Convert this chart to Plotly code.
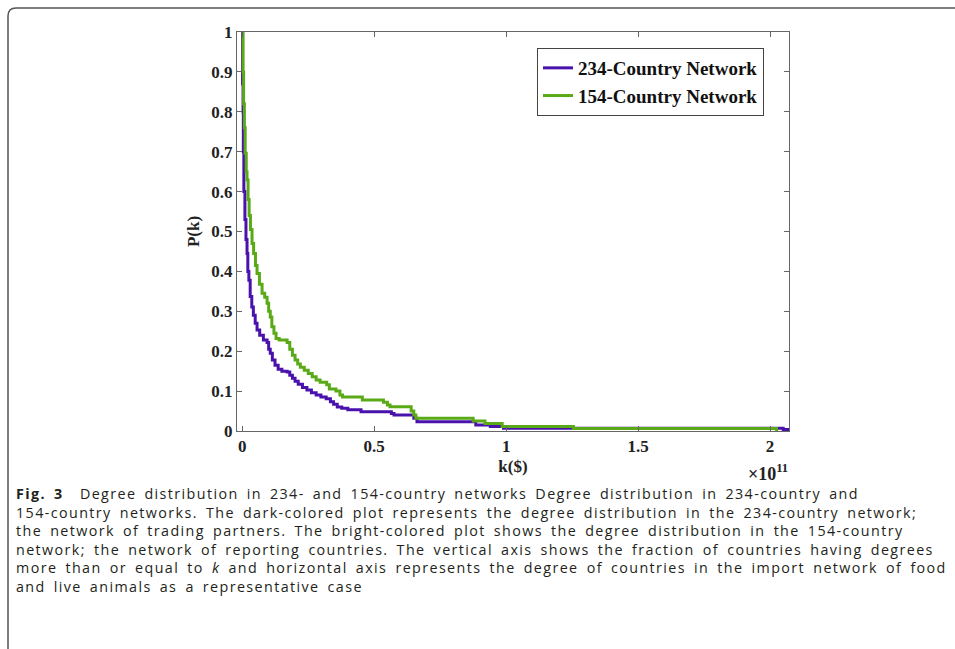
import plotly.graph_objects as go

# degree k in units of 1e11 $
k_234 = [0.000, 0.001, 0.003, 0.004, 0.006, 0.010, 0.014, 0.018, 0.021, 0.025, 0.030, 0.036,
         0.042, 0.049, 0.056, 0.066, 0.080, 0.094, 0.100, 0.106, 0.114, 0.124, 0.136, 0.150,
         0.170, 0.180, 0.190, 0.200, 0.212, 0.228, 0.245, 0.262, 0.280, 0.298, 0.318, 0.334,
         0.346, 0.360, 0.377, 0.400, 0.450, 0.565, 0.575, 0.650, 0.662, 0.885, 0.940, 0.990,
         2.050, 2.070]
p_234 = [1.000, 0.870, 0.800, 0.700, 0.600, 0.530, 0.480, 0.445, 0.400, 0.378, 0.337, 0.311,
         0.290, 0.270, 0.253, 0.240, 0.228, 0.222, 0.205, 0.195, 0.178, 0.165, 0.155, 0.150,
         0.148, 0.140, 0.132, 0.125, 0.117, 0.109, 0.103, 0.096, 0.090, 0.085, 0.081, 0.073,
         0.067, 0.060, 0.057, 0.053, 0.048, 0.044, 0.040, 0.032, 0.023, 0.015, 0.011, 0.007,
         0.004, 0.000]

k_154 = [0.000, 0.003, 0.005, 0.008, 0.011, 0.015, 0.018, 0.022, 0.026, 0.031, 0.037, 0.043,
         0.050, 0.056, 0.065, 0.075, 0.085, 0.094, 0.100, 0.106, 0.112, 0.120, 0.128, 0.140,
         0.170, 0.180, 0.190, 0.200, 0.210, 0.220, 0.235, 0.250, 0.265, 0.280, 0.295, 0.320,
         0.330, 0.355, 0.370, 0.380, 0.455, 0.535, 0.550, 0.560, 0.640, 0.650, 0.658, 0.875,
         0.920, 0.985, 1.255, 2.025]
p_154 = [1.000, 0.900, 0.820, 0.760, 0.696, 0.650, 0.629, 0.580, 0.540, 0.505, 0.470, 0.445,
         0.415, 0.395, 0.368, 0.345, 0.335, 0.320, 0.300, 0.286, 0.261, 0.245, 0.232, 0.228,
         0.222, 0.205, 0.190, 0.178, 0.168, 0.160, 0.152, 0.144, 0.136, 0.128, 0.122, 0.116,
         0.105, 0.100, 0.090, 0.085, 0.078, 0.072, 0.065, 0.061, 0.050, 0.040, 0.032, 0.025,
         0.019, 0.011, 0.006, 0.000]

series_names = ["234-Country Network", "154-Country Network"]
series_colors = ["#4a12ad", "#5aaa17"]

x_ticks = [0, 0.5, 1, 1.5, 2]
y_ticks = [0, 0.1, 0.2, 0.3, 0.4, 0.5, 0.6, 0.7, 0.8, 0.9, 1]

caption_lines = [
    "<b>Fig. 3</b>  Degree distribution in 234- and 154-country networks Degree distribution in 234-country and",
    "154-country networks. The dark-colored plot represents the degree distribution in the 234-country network;",
    "the network of trading partners. The bright-colored plot shows the degree distribution in the 154-country",
    "network; the network of reporting countries. The vertical axis shows the fraction of countries having degrees",
    "more than or equal to <i>k</i> and horizontal axis represents the degree of countries in the import network of food",
    "and live animals as a representative case",
]

W, H = 955, 649
L, R, T, B = 237, 789, 32, 431


def px_x(px):
    return (px - L) / (R - L)


def px_y(py):
    return (B - py) / (B - T)


serif = "Liberation Serif"
fig = go.Figure()
fig.add_trace(go.Scatter(x=k_234, y=p_234, mode="lines", name=series_names[0],
                         line=dict(color=series_colors[0], width=3, shape="hv")))
fig.add_trace(go.Scatter(x=k_154, y=p_154, mode="lines", name=series_names[1],
                         line=dict(color=series_colors[1], width=3, shape="hv")))

axis_common = dict(showline=True, linecolor="#666", linewidth=1, mirror="ticks",
                   ticks="inside", ticklen=5, tickcolor="#666", showgrid=False, zeroline=False,
                   tickfont=dict(family=serif, size=17, color="#222", weight="bold"))
fig.update_xaxes(range=[-0.02, 2.072], tickvals=x_ticks,
                 title=dict(text="k($)", font=dict(family=serif, size=17, color="#222", weight="bold"),
                            standoff=4), **axis_common)
fig.update_yaxes(range=[0, 1], tickvals=y_ticks,
                 title=dict(text="P(k)", font=dict(family=serif, size=17, color="#222", weight="bold"),
                            standoff=7), **axis_common)

fig.update_layout(
    width=W, height=H, margin=dict(l=L, r=W - R, t=T, b=H - B),
    paper_bgcolor="white", plot_bgcolor="white",
    legend=dict(x=px_x(537), y=px_y(48), xanchor="left", yanchor="top",
                bordercolor="#444", borderwidth=1, bgcolor="white",
                font=dict(family=serif, size=19, color="#111", weight="bold"),
                tracegroupgap=0, itemwidth=30),
    showlegend=True,
)

fig.add_annotation(x=px_x(768), y=px_y(459), xref="paper", yref="paper",
                   xanchor="center", yanchor="top",
                   text="×10<sup>11</sup>", showarrow=False,
                   font=dict(family=serif, size=18, color="#222", weight="bold"))

caption_text = "<br>".join(
    f'<span style="letter-spacing:1.4px;word-spacing:3px">{ln}</span>' for ln in caption_lines)
fig.add_annotation(x=px_x(14), y=px_y((493 + 586) / 2), xref="paper", yref="paper",
                   xanchor="left", yanchor="middle", align="left",
                   text=caption_text, showarrow=False,
                   font=dict(family="Open Sans", size=14.3, color="#231f20"))

# figure frame (rounded top-left corner)
xl, yt = px_x(8), px_y(8)
rx, ry = 8 / (R - L), 8 / (B - T)
fig.add_shape(type="path", xref="paper", yref="paper",
              path=f"M {xl} {px_y(700)} L {xl} {yt - ry} Q {xl} {yt} {xl + rx} {yt} L {px_x(1000)} {yt}",
              line=dict(color="#555", width=1.5))

fig.write_html("out.html")
